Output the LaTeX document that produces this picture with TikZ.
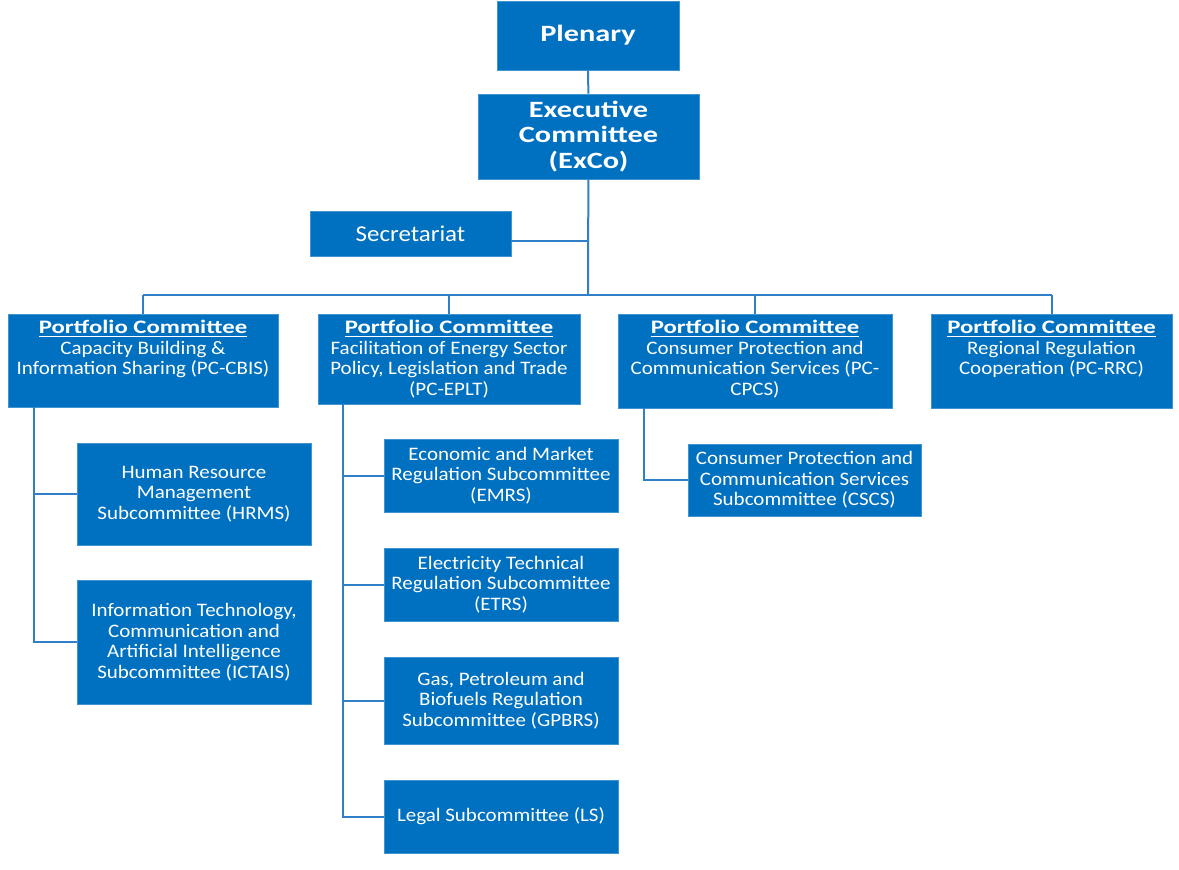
\documentclass[tikz,border=0pt]{standalone}
\usepackage{fontspec}
\setmainfont[FakeStretch=1.1,BoldFeatures={FakeStretch=1.3}]{Carlito}
\usetikzlibrary{calc}

\definecolor{boxblue}{HTML}{0070C0}
\definecolor{lineblue}{HTML}{3080C8}

\begin{document}
\begin{tikzpicture}[x=0.75pt,y=-0.75pt,
		box/.style={rectangle,fill=boxblue,draw=boxblue!75!white,line width=0.6pt,
			text=white,align=center,inner sep=0pt},
		boxsize/.style 2 args={minimum width=#1*0.75pt,minimum height=#2*0.75pt},
		pctext/.style={anchor=north,text=white,align=center,inner sep=0pt,yshift=-5pt,
			font=\fontsize{14.3}{15.3}\selectfont},
		subtext/.style={font=\fontsize{14.3}{15.4}\selectfont},
		link/.style={draw=lineblue,line width=1.5pt}]

		\useasboundingbox (0,0) rectangle (1179,869);

		% top of the chart
		\node[box,boxsize={182}{69},font=\fontsize{17.5}{19}\bfseries] (plen) at (588,35.5) {Plenary};
		\node[box,boxsize={221}{85},font=\fontsize{17.5}{19}\bfseries] (exco) at (588.5,136.5)
			{Executive\\Committee\\(ExCo)};
		\node[box,boxsize={201}{45},font=\fontsize{17}{19}\selectfont] (sec) at (410.5,233.5) {Secretariat};
		\coordinate (hub) at (588,295);

		% portfolio committees
		\node[box,boxsize={270}{93},label={[pctext]north:{\textbf{\underline{Portfolio Committee}}\\
			Capacity Building \&\\Information Sharing (PC-CBIS)}}] (cbis) at (143,360.5) {};
		\node[box,boxsize={262}{90},label={[pctext]north:{\textbf{\underline{Portfolio Committee}}\\
			Facilitation of Energy Sector\\Policy, Legislation and Trade\\(PC-EPLT)}}] (eplt) at (449,359) {};
		\node[box,boxsize={274}{94},label={[pctext]north:{\textbf{\underline{Portfolio Committee}}\\
			Consumer Protection and\\Communication Services (PC-\\CPCS)}}] (cpcs) at (755,361) {};
		\node[box,boxsize={241}{94},label={[pctext]north:{\textbf{\underline{Portfolio Committee}}\\
			Regional Regulation\\Cooperation (PC-RRC)}}] (rrc) at (1051.5,361) {};

		% subcommittees
		\node[box,subtext,boxsize={234}{102}] (hrms) at (194,494)
			{Human Resource\\Management\\Subcommittee (HRMS)};
		\node[box,subtext,boxsize={234}{124}] (ictais) at (194,642)
			{Information Technology,\\Communication and\\Artificial Intelligence\\Subcommittee (ICTAIS)};
		\node[box,subtext,boxsize={234}{73}] (emrs) at (501,475.5)
			{Economic and Market\\Regulation Subcommittee\\(EMRS)};
		\node[box,subtext,boxsize={234}{73}] (etrs) at (501,584.5)
			{Electricity Technical\\Regulation Subcommittee\\(ETRS)};
		\node[box,subtext,boxsize={234}{87}] (gpbrs) at (501,700.5)
			{Gas, Petroleum and\\Biofuels Regulation\\Subcommittee (GPBRS)};
		\node[box,subtext,boxsize={234}{73}] (ls) at (501,816.5)
			{Legal Subcommittee (LS)};
		\node[box,subtext,boxsize={233}{72}] (cscs) at (804.5,480)
			{Consumer Protection and\\Communication Services\\Subcommittee (CSCS)};

		\coordinate (cbisrail) at (34,407);
		\coordinate (epltrail) at (343,404);
		\coordinate (cpcsrail) at (644,408);

		% connectors
		\draw[link] (plen) -- (exco);
		\draw[link] (exco) -- (hub);
		\draw[link] ($(sec.east)+(0,7)$) -- ($(sec.east -| hub)+(0,7)$);
		\draw[link] (cbis.north |- hub) -- (rrc.north |- hub);
		\foreach \pc in {cbis,eplt,cpcs,rrc}
			\draw[link] (\pc.north |- hub) -- (\pc.north);

		\draw[link] (cbisrail) |- (ictais.west);
		\draw[link] (cbisrail |- hrms.west) -- (hrms.west);
		\draw[link] (epltrail) |- (ls.west);
		\foreach \sub in {emrs,etrs,gpbrs}
			\draw[link] (epltrail |- \sub.west) -- (\sub.west);
		\draw[link] (cpcsrail) |- (cscs.west);

\end{tikzpicture}
\end{document}
